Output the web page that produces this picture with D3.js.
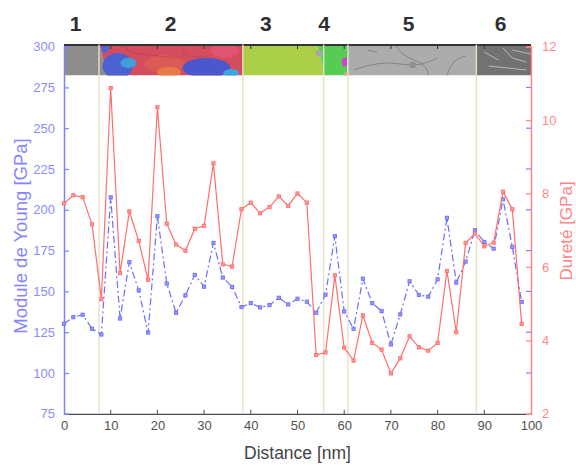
<!DOCTYPE html>
<html>
<head>
<meta charset="utf-8">
<script src="https://cdn.jsdelivr.net/npm/d3@7"></script>
<style>
  html, body { margin: 0; padding: 0; background: #fff; }
  svg { display: block; font-family: "Liberation Sans", Arial, sans-serif; }
</style>
</head>
<body>
<svg id="chart" width="576" height="465"></svg>
<script>
// ---------- data ----------
const distance = [0,2,4,6,8,10,12,14,16,18,20,22,24,26,28,30,32,34,36,38,40,42,44,46,48,50,52,54,56,58,60,62,64,66,68,70,72,74,76,78,80,82,84,86,88,90,92,94,96,98];
const young = [130.2,134.2,135.7,127.1,123.6,207.6,133.4,167.9,150.6,124.8,196.1,154.8,136.9,147.6,160.1,152.9,179.7,158.5,152.7,140.4,142.8,140.2,141.6,146.1,142.0,145.5,143.7,136.9,148.0,183.8,137.7,127.1,157.8,142.8,138.0,117.5,135.9,156.2,147.8,146.8,157.4,195.1,155.4,168.3,187.5,180.3,176.2,206.4,177.3,143.5];
const durete = [7.73,7.95,7.90,7.16,5.12,10.87,5.83,7.51,6.71,5.65,10.35,7.18,6.61,6.44,7.04,7.12,8.82,6.07,6.01,7.57,7.75,7.46,7.63,7.92,7.66,8.00,7.75,3.60,3.67,5.77,3.80,3.45,4.68,3.93,3.75,3.10,3.51,4.11,3.81,3.72,3.93,5.89,4.22,6.65,6.91,6.56,6.66,8.05,7.57,4.45];
const xTicks = [0,10,20,30,40,50,60,70,80,90,100];
const leftTicks = [75,100,125,150,175,200,225,250,275,300];
const rightTicks = [2,4,6,8,10,12];
const zoneBounds = [7.5, 38.3, 55.6, 60.8, 88.3];
const zoneLabels = ["1","2","3","4","5","6"];
const zoneLabelPos = [2.5, 22.8, 43.2, 55.7, 73.8, 93.5];

// ---------- setup ----------
const svg = d3.select("#chart");
const L = 64, R = 531, T = 46.6, B = 413.8;
const x = d3.scaleLinear().domain([0,100]).range([L,R]);
const yL = d3.scaleLinear().domain([75,300]).range([B,T]);
const yR = d3.scaleLinear().domain([2,12]).range([B,T]);

const BLUE = "#8080ff", BLUE_LINE = "#6d6dfa";
const RED = "#ff8585", RED_LINE = "#ff6e6e";
const DARK = "#4a4a4a";

svg.append("rect").attr("width",576).attr("height",465).attr("fill","#fff");

// ---------- micrograph strip ----------
const sT = 44.5, sB = 75.5;
const strip = svg.append("g");
svg.append("defs").append("clipPath").attr("id","stripClip")
  .append("rect").attr("x",L).attr("y",sT).attr("width",R-L).attr("height",sB-sT);
strip.attr("clip-path","url(#stripClip)");
// zone 1 grey
strip.append("polygon").attr("points",`${L},${sT} ${x(7.6)},${sT} ${x(9.2)},${sB} ${L},${sB}`).attr("fill","#8d8d8d");
// zone 2 EBSD grains
strip.append("polygon").attr("points",`${x(7.6)},${sT} ${x(38.3)},${sT} ${x(38.3)},${sB} ${x(9.2)},${sB}`).attr("fill","#d44d5e");
strip.append("ellipse").attr("cx",x(11.5)).attr("cy",66).attr("rx",15).attr("ry",13).attr("fill","#4d62d2");
strip.append("ellipse").attr("cx",x(8.8)).attr("cy",48).attr("rx",4).attr("ry",5).attr("fill","#5066d8");
strip.append("ellipse").attr("cx",x(13.8)).attr("cy",63).attr("rx",8).attr("ry",5).attr("fill","#3e9fdc");
strip.append("ellipse").attr("cx",x(21.5)).attr("cy",64).attr("rx",20).attr("ry",9).attr("fill","#db5a55");
strip.append("ellipse").attr("cx",x(22.5)).attr("cy",72).attr("rx",12).attr("ry",5).attr("fill","#e87a45");
strip.append("ellipse").attr("cx",x(30.5)).attr("cy",68).attr("rx",24).attr("ry",10).attr("fill","#4b57cc");
strip.append("ellipse").attr("cx",x(35.8)).attr("cy",73).attr("rx",8).attr("ry",4).attr("fill","#3aa6e0");
strip.append("ellipse").attr("cx",x(34.5)).attr("cy",51).attr("rx",14).attr("ry",7).attr("fill","#e05470");
strip.append("path").attr("d",`M${x(12)},${sT} L${x(14)},52 L${x(18)},55 L${x(25)},58 M${x(25)},${sT} L${x(26)},56 L${x(31)},57 M${x(14)},52 L${x(13)},${sT}`)
  .attr("stroke","#b03848").attr("stroke-width",0.7).attr("fill","none").attr("opacity",0.6);
// zone 3 yellow-green
strip.append("polygon").attr("points",`${x(38.3)},${sT} ${x(54.3)},${sT} ${x(55.8)},${sB} ${x(38.3)},${sB}`).attr("fill","#abcf46");
// zone 4 green
strip.append("polygon").attr("points",`${x(54.3)},${sT} ${x(60.9)},${sT} ${x(60.6)},${sB} ${x(55.8)},${sB}`).attr("fill","#57cc55");
strip.append("circle").attr("cx",x(54.6)).attr("cy",53).attr("r",3.2).attr("fill","#a8a8a0");
strip.append("ellipse").attr("cx",x(60.1)).attr("cy",62).attr("rx",2.8).attr("ry",4.5).attr("fill","#d142d0");
strip.append("ellipse").attr("cx",x(60.5)).attr("cy",74).attr("rx",3).attr("ry",2).attr("fill","#c8b07a");
// zone 5 light grey
strip.append("rect").attr("x",x(60.8)).attr("y",sT).attr("width",x(88.3)-x(60.8)).attr("height",sB-sT).attr("fill","#acacac");
strip.append("path").attr("d",`M${x(62)},70 Q${x(68)},60 ${x(72)},64 T${x(80)},58 M${x(71)},${sT} Q${x(72)},55 ${x(75)},60 T${x(78)},${sB} M${x(82)},${sB} Q${x(83)},58 ${x(86)},56 M${x(65)},50 L${x(67)},52`)
  .attr("stroke","#7a7a7a").attr("stroke-width",0.8).attr("fill","none");
strip.append("rect").attr("x",x(74)).attr("y",62).attr("width",6).attr("height",6).attr("fill","#909090");
// zone 6 darker grey
strip.append("rect").attr("x",x(88.3)).attr("y",sT).attr("width",R-x(88.3)).attr("height",sB-sT).attr("fill","#727272");
strip.append("path").attr("d",`M${x(90)},52 L${x(93)},60 M${x(94)},48 L${x(96)},58 L${x(99)},62 M${x(91)},66 L${x(99)},70 M${x(96)},50 L${x(100)},54`)
  .attr("stroke","#b8b8b8").attr("stroke-width",1).attr("fill","none");
// strip top border with ticks
svg.append("line").attr("x1",L).attr("x2",R).attr("y1",45).attr("y2",45).attr("stroke","#333").attr("stroke-width",1.8);
svg.selectAll(".ttick").data(xTicks.slice(1,-1)).enter().append("line")
  .attr("x1",d=>x(d)).attr("x2",d=>x(d)).attr("y1",45).attr("y2",49).attr("stroke","#333").attr("stroke-width",1);

// ---------- zone boundary lines ----------
svg.selectAll(".zb").data(zoneBounds).enter().append("line")
  .attr("x1",d=>x(d)).attr("x2",d=>x(d)).attr("y1",sT).attr("y2",B-1)
  .attr("stroke","#e6e1c6").attr("stroke-width",1.4);

// zone labels
svg.selectAll(".zl").data(zoneLabels).enter().append("text")
  .attr("x",(d,i)=>x(zoneLabelPos[i])).attr("y",31)
  .attr("text-anchor","middle").attr("font-size",21).attr("font-weight","bold")
  .attr("fill","#2f2f2f").text(d=>d);

// ---------- axes ----------
// bottom
const xAxis = d3.axisBottom(x).tickValues(xTicks).tickSize(0).tickPadding(0).tickFormat(d3.format("d"));
const gx = svg.append("g").attr("transform",`translate(0,${B})`).call(xAxis);
gx.select(".domain").attr("stroke",DARK).attr("stroke-width",1.2);
gx.selectAll("text").attr("font-size",13).attr("fill","#505050").attr("dy","1.25em").attr("font-family","Liberation Sans, Arial, sans-serif");
svg.selectAll(".xt").data(xTicks.slice(1,-1)).enter().append("line")
  .attr("x1",d=>x(d)).attr("x2",d=>x(d)).attr("y1",B).attr("y2",B-4).attr("stroke",DARK).attr("stroke-width",1);

// left
const yAxisL = d3.axisLeft(yL).tickValues(leftTicks).tickSize(-5).tickPadding(9);
const gl = svg.append("g").attr("transform",`translate(${L},0)`).call(yAxisL);
gl.select(".domain").attr("stroke",BLUE).attr("stroke-width",1.5);
gl.selectAll(".tick line").attr("stroke",BLUE).attr("stroke-width",1.2);
gl.selectAll("text").attr("font-size",13).attr("fill","#8c8cff").attr("font-family","Liberation Sans, Arial, sans-serif");

// right
const yAxisR = d3.axisRight(yR).tickValues(rightTicks).tickSize(-5).tickPadding(11);
const gr = svg.append("g").attr("transform",`translate(${R},0)`).call(yAxisR);
gr.select(".domain").attr("stroke",RED).attr("stroke-width",1.5);
gr.selectAll(".tick line").attr("stroke",RED).attr("stroke-width",1.2);
gr.selectAll("text").attr("font-size",13).attr("fill","#ff8a8a").attr("font-family","Liberation Sans, Arial, sans-serif");
svg.selectAll(".rbt").data(leftTicks.slice(1,-1)).enter().append("line")
  .attr("x1",R).attr("x2",R-5).attr("y1",d=>yL(d)).attr("y2",d=>yL(d))
  .attr("stroke",BLUE).attr("stroke-width",1.2);

// axis titles
svg.append("text").attr("x",x(50)).attr("y",459).attr("text-anchor","middle")
  .attr("font-size",17.5).attr("fill","#444").text("Distance [nm]");
svg.append("text").attr("transform",`translate(27,236) rotate(-90)`).attr("text-anchor","middle")
  .attr("font-size",18.5).attr("fill","#8585ff").text("Module de Young [GPa]");
svg.append("text").attr("transform",`translate(572,231) rotate(-90)`).attr("text-anchor","middle")
  .attr("font-size",17).attr("fill","#ff8585").text("Dureté [GPa]");

// ---------- series ----------
const youngPts = distance.map((d,i)=>[d, young[i]]);
const durPts = distance.map((d,i)=>[d, durete[i]]);

const lineL = d3.line().x(d=>x(d[0])).y(d=>yL(d[1]));
const lineR = d3.line().x(d=>x(d[0])).y(d=>yR(d[1]));

svg.append("path").datum(youngPts).attr("d",lineL).attr("fill","none")
  .attr("stroke",BLUE_LINE).attr("stroke-width",1.2).attr("stroke-dasharray","7,3,2,3");
svg.selectAll(".ym").data(youngPts).enter().append("rect")
  .attr("x",d=>x(d[0])-1.6).attr("y",d=>yL(d[1])-1.6).attr("width",3.2).attr("height",3.2)
  .attr("fill","#9a9aff").attr("stroke",BLUE_LINE).attr("stroke-width",0.9);

svg.append("path").datum(durPts).attr("d",lineR).attr("fill","none")
  .attr("stroke",RED_LINE).attr("stroke-width",1.2);
svg.selectAll(".dm").data(durPts).enter().append("rect")
  .attr("x",d=>x(d[0])-1.6).attr("y",d=>yR(d[1])-1.6).attr("width",3.2).attr("height",3.2)
  .attr("fill","#ff9a9a").attr("stroke",RED_LINE).attr("stroke-width",0.9);
</script>
</body>
</html>
